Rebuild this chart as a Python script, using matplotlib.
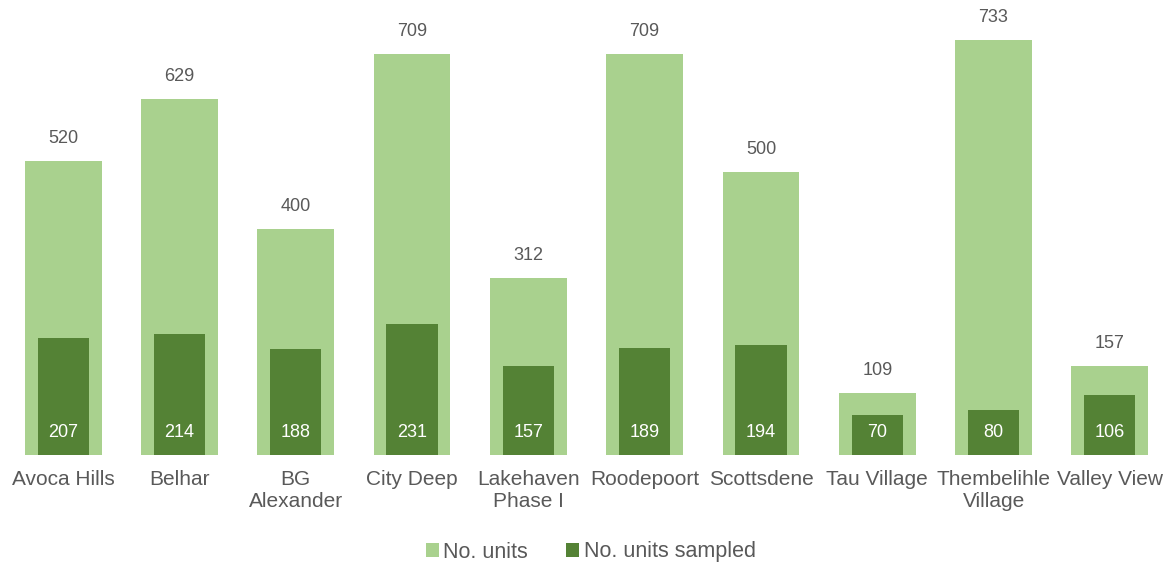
import matplotlib.pyplot as plt
import numpy as np

plt.rcParams['font.family'] = ['Liberation Sans', 'DejaVu Sans']

sites = ["Avoca Hills", "Belhar", "BG\nAlexander", "City Deep", "Lakehaven\nPhase I",
         "Roodepoort", "Scottsdene", "Tau Village", "Thembelihle\nVillage", "Valley View"]
units = [520, 629, 400, 709, 312, 709, 500, 109, 733, 157]
sampled = [207, 214, 188, 231, 157, 189, 194, 70, 80, 106]

light = "#A9D18E"
dark = "#548235"
grey = "#595959"

fig = plt.figure(figsize=(11.72, 5.67), dpi=100)
ax = fig.add_axes([5 / 1172, 112 / 567, 1163 / 1172, 453 / 567])

x = np.arange(len(sites))
b1 = ax.bar(x, units, width=0.66, color=light, label="No. units")
b2 = ax.bar(x, sampled, width=0.44, color=dark, label="No. units sampled")

for xi, v in zip(x, units):
    ax.annotate(str(v), (xi, v), xytext=(0, 10), textcoords="offset points",
                ha="center", va="bottom", fontsize=13, color=grey)
for xi, v in zip(x, sampled):
    ax.annotate(str(v), (xi, 0), xytext=(0, 16), textcoords="offset points",
                ha="center", va="center", fontsize=13, color="white")

ax.set_xlim(-0.5, len(sites) - 0.5)
ax.set_ylim(0, 800)
ax.set_xticks(x)
ax.set_xticklabels(sites, fontsize=15, color=grey, linespacing=1.15)
ax.tick_params(axis="x", length=0, pad=11)
ax.set_yticks([])
for s in ax.spines.values():
    s.set_visible(False)

fig.legend(handles=[b1, b2], loc="center", bbox_to_anchor=(0.504, 1 - 552 / 567), ncol=2,
           frameon=False, fontsize=15.5, labelcolor=grey, handlelength=0.6, handleheight=0.6,
           handletextpad=0.2, columnspacing=1.8)

fig.savefig("out.png", dpi=100)
